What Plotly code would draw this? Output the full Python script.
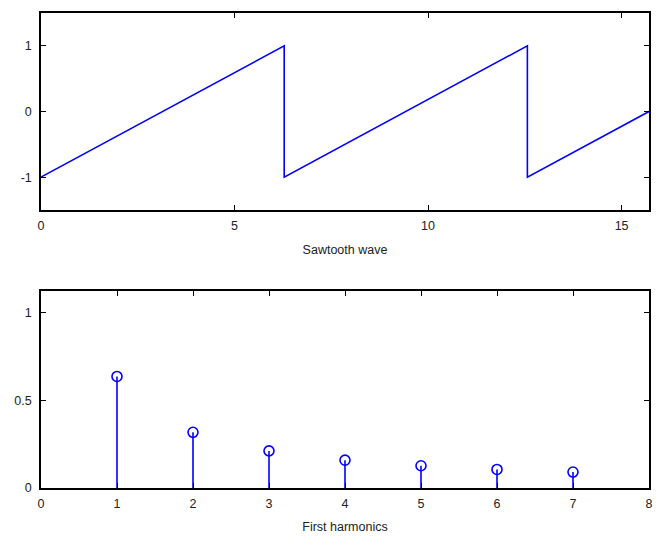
import plotly.graph_objects as go

# Sawtooth wave vertices (period 2*pi, shown over 0..5*pi)
saw_x = [0, 6.283, 6.283, 12.566, 12.566, 15.708]
saw_y = [-1, 1, -1, 1, -1, 0]

# First harmonics amplitudes
harm_n = [1, 2, 3, 4, 5, 6, 7]
harm_a = [0.637, 0.318, 0.212, 0.159, 0.127, 0.106, 0.091]

top_xticks = [0, 5, 10, 15]
top_yticks = [-1, 0, 1]
top_yticklabels = ["-1", "0", "1"]
bot_xticks = [0, 1, 2, 3, 4, 5, 6, 7, 8]
bot_yticks = [0, 0.5, 1]

blue = "#0000FF"
font = dict(family="Liberation Sans, Arial, sans-serif", size=12.5, color="#222")

fig = go.Figure()

fig.add_trace(go.Scatter(x=saw_x, y=saw_y, mode="lines",
                         line=dict(color=blue, width=1.6),
                         xaxis="x", yaxis="y", showlegend=False))

stem_x, stem_y = [], []
for n, a in zip(harm_n, harm_a):
    stem_x += [n, n, None]
    stem_y += [0, a, None]
fig.add_trace(go.Scatter(x=stem_x, y=stem_y, mode="lines",
                         line=dict(color=blue, width=1.6),
                         xaxis="x2", yaxis="y2", showlegend=False))
fig.add_trace(go.Scatter(x=harm_n, y=harm_a, mode="markers",
                         marker=dict(symbol="circle-open", size=10, color=blue,
                                     line=dict(width=1.6, color=blue)),
                         xaxis="x2", yaxis="y2", showlegend=False))

axis_common = dict(showgrid=False, zeroline=False, showline=True,
                   linecolor="black", linewidth=1.5, mirror="allticks",
                   ticks="inside", ticklen=5, tickwidth=1.2, tickcolor="black",
                   tickfont=font, ticklabeloverflow="allow", automargin=False)

fig.update_layout(
    width=658, height=538,
    margin=dict(l=41, r=9, t=13, b=50),
    paper_bgcolor="white", plot_bgcolor="white",
    font=font,
    xaxis=dict(axis_common, domain=[0, 1], anchor="y", range=[0, 15.708],
               tickvals=top_xticks, ticklabelstandoff=3,
               title=dict(text="Sawtooth wave", font=font, standoff=14)),
    yaxis=dict(axis_common, domain=[0.5853, 1], anchor="x", range=[-1.5, 1.5],
               tickvals=top_yticks, ticktext=top_yticklabels, ticklabelstandoff=5),
    xaxis2=dict(axis_common, domain=[0, 1], anchor="y2", range=[0, 8],
                tickvals=bot_xticks, ticklabelstandoff=3,
                title=dict(text="First harmonics", font=font, standoff=12)),
    yaxis2=dict(axis_common, domain=[0, 0.4147], anchor="x2", range=[0, 1.125],
                tickvals=bot_yticks, ticklabelstandoff=5),
)

fig.write_html("out.html", config={"displayModeBar": False},
               post_script="document.body.style.margin='0';document.body.style.overflow='hidden';")
